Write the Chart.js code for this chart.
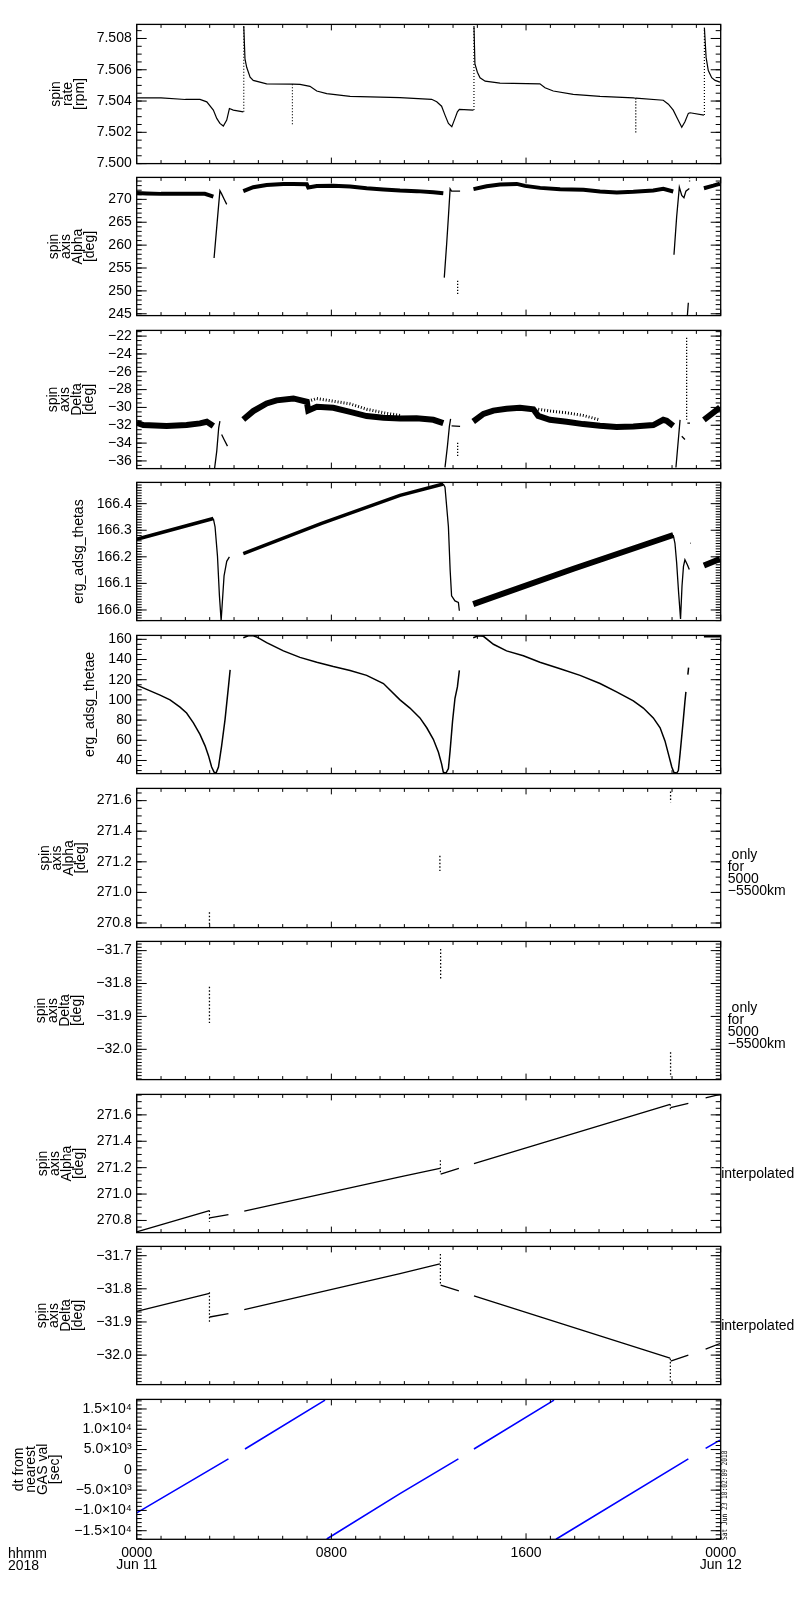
<!DOCTYPE html>
<html><head><meta charset="utf-8">
<script src="https://cdn.jsdelivr.net/npm/chart.js@4.4.1/dist/chart.umd.min.js"></script>
<style>
html,body{margin:0;padding:0;background:#fff;}
#wrap{position:relative;width:800px;height:1600px;overflow:hidden;background:#fff;}
#wrap canvas{position:absolute;left:0;}
</style></head><body><div id="wrap"></div>
<script>
// ================= DATA (time in hours from 0000 Jun 11) =================
// Panel 1: spin rate [rpm]
const rateT = [0,1,2,2.6,2.88,3.15,3.29,3.42,3.56,3.7,3.81,3.97,4.38,null,4.40,4.45,4.52,4.66,4.79,5.34,6.40,6.71,7.12,7.40,7.81,8.77,10.82,12.12,12.33,12.53,12.67,12.81,12.95,13.08,13.18,13.26,13.84,null,13.86,13.9,14.0,14.11,14.32,14.93,16.57,16.78,17.12,17.94,19.04,20.41,20.51,21.64,21.85,22.05,22.22,22.4,22.53,22.67,22.74,23.31,null,23.33,23.4,23.49,23.63,23.77,23.97];
const rateV = [7.5042,7.5042,7.5041,7.5041,7.50395,7.50342,7.50289,7.50257,7.5024,7.50278,7.50352,7.50342,7.50331,null,7.5088,7.50669,7.50616,7.50553,7.50532,7.5051,7.50508,7.50506,7.50494,7.50464,7.50447,7.5043,7.50422,7.50411,7.50395,7.50367,7.5031,7.50257,7.50236,7.50289,7.50331,7.50346,7.50342,null,7.5088,7.50637,7.50584,7.50549,7.50527,7.50515,7.5051,7.50485,7.50464,7.50443,7.5043,7.5042,7.50418,7.50405,7.5038,7.50342,7.50289,7.50232,7.50268,7.50321,7.50325,7.5031,null,7.50869,7.50679,7.50595,7.50549,7.50532,7.50521];
const rateSpikeT = [4.40,4.40,null,6.40,6.40,null,13.86,13.86,null,20.51,20.51,null,23.33,23.33];
const rateSpikeV = [7.50331,7.5088,null,7.50508,7.5025,null,7.50342,7.5088,null,7.50418,7.50188,null,7.5031,7.50869];

// Panel 2: spin axis Alpha [deg]
const alphaBandT = [0,0.4,1,2,2.8,3.0,3.15,null,4.38,4.79,5.34,6.03,6.44,6.99,7.05,7.40,8.08,8.77,9.45,10.14,10.82,11.51,12.19,12.6,null,13.84,14.38,14.93,15.62,15.96,16.58,17.4,18.36,19.04,19.73,20.41,21.23,21.64,22.05,null,23.31,23.7,23.97];
const alphaBandV = [271.4,271.3,271.2,271.2,271.22,270.86,270.6,null,271.8,272.66,273.16,273.38,273.38,273.3,272.6,272.9,272.95,272.8,272.44,272.16,271.94,271.8,271.58,271.36,null,272.23,272.87,273.23,273.38,272.95,272.51,272.23,272.08,271.72,271.51,271.65,271.94,272.3,271.72,null,272.44,273.0,273.45];
const alphaThinT = [3.18,3.29,3.36,3.42,3.49,3.59,3.70,null,3.80,3.83,null,12.64,12.74,12.81,12.88,12.94,13.29,null,22.08,22.19,22.30,22.40,22.49,22.57,22.71,null,22.63,22.67];
const alphaThinV = [257.2,264.0,268.3,271.9,271.2,270.1,268.9,null,271.6,271.6,null,252.9,260.4,266.2,272.3,271.8,271.8,null,257.9,266.2,272.66,270.86,270.36,271.8,272.4,null,244.6,247.4];
const alphaDotT = [13.19,13.19,null,22.72,22.72];
const alphaDotV = [252.2,249.3,null,274.8,273.7];

// Panel 3: spin axis Delta [deg]
const deltaBandT = [0,0.27,1.23,2.05,2.6,2.88,3.01,3.15,null,4.38,4.79,5.34,5.75,6.44,6.99,7.05,7.4,8.08,8.77,9.45,10.14,10.82,11.5,12.19,12.6,null,13.83,14.25,14.66,15.2,15.75,16.3,16.5,16.98,17.67,18.35,19.04,19.72,20.41,21.23,21.64,21.78,22.05,null,23.31,23.63,23.97];
const deltaBandV = [-31.72,-31.98,-32.09,-31.98,-31.79,-31.61,-31.83,-32.09,null,-31.35,-30.41,-29.55,-29.21,-28.99,-29.36,-30.34,-29.93,-30.04,-30.49,-30.97,-31.16,-31.23,-31.21,-31.39,-31.76,null,-31.58,-30.73,-30.36,-30.14,-30.03,-30.21,-30.95,-31.39,-31.61,-31.87,-32.06,-32.2,-32.13,-31.98,-31.39,-31.5,-32.06,null,-31.39,-30.73,-30.0];
const deltaScatterT = [7.05,7.4,8.08,8.77,9.45,10.14,10.82,null,16.5,16.98,17.67,18.35,19.04];
const deltaScatterV = [-29.3,-29.0,-29.3,-29.6,-30.2,-30.6,-30.9,null,-30.2,-30.4,-30.6,-30.9,-31.4];
const deltaThinT = [3.19,3.29,3.37,3.42,null,3.49,3.59,3.73,null,3.80,3.83,null,12.67,12.77,12.85,12.9,null,12.94,13.29,null,22.16,22.26,22.33,null,22.4,22.53,null,22.63,22.74];
const deltaThinV = [-37.07,-34.9,-32.28,-31.53,null,-33.03,-33.59,-34.34,null,-31.72,-31.72,null,-36.73,-34.34,-32.13,-31.28,null,-32.06,-32.13,null,-36.73,-33.6,-31.39,null,-33.24,-33.6,null,-31.76,-31.76];
const deltaDotT = [13.19,13.19,null,22.6,22.6];
const deltaDotV = [-33.97,-35.62,null,-22.19,-31.39];

// Panel 4: erg_adsg_thetas
const thetasBandAT = [0,3.15,null,4.38,7.6,10.82,12.6];
const thetasBandAV = [166.266,166.344,null,166.212,166.326,166.431,166.474];
const thetasBandBT = [13.83,17.95,22.05,null,23.31,23.97];
const thetasBandBV = [166.022,166.155,166.282,null,166.167,166.192];
const thetasThinT = [3.15,3.22,3.32,3.40,3.47,3.51,3.59,3.70,3.81,null,3.80,3.82,null,12.6,12.67,12.81,12.88,12.94,13.08,13.22,13.26,null,22.05,22.12,22.19,22.27,22.35,22.41,22.47,22.53,22.63,22.71,null,22.76,22.78];
const thetasThinV = [166.344,166.313,166.202,166.053,165.96,166.016,166.128,166.183,166.2,null,166.258,166.258,null,166.474,166.462,166.313,166.152,166.053,166.034,166.028,165.997,null,166.282,166.251,166.177,166.066,165.966,166.09,166.164,166.189,166.17,166.152,null,166.251,166.251];

// Panel 5: erg_adsg_thetae
const thetaeT = [0,0.41,0.96,1.37,1.78,2.05,2.33,2.6,2.81,2.95,3.08,3.18,3.26,3.36,3.49,3.63,3.77,3.84,null,4.38,4.59,4.79,4.93,5.34,6.03,6.71,7.4,8.08,8.77,9.45,10.14,10.82,11.23,11.64,11.92,12.19,12.4,12.53,12.6,12.71,12.81,12.88,12.98,13.08,13.18,13.26,null,13.83,14.04,14.25,14.66,15.2,15.89,16.57,17.4,18.22,19.04,19.72,20.41,20.82,21.23,21.51,21.71,21.85,21.99,22.08,22.19,22.26,22.33,22.47,22.53,22.57,null,22.65,22.68,null,23.31,23.97];
const thetaeV = [114.6,110.4,104.8,100.0,92.9,87.0,77.3,65.9,54.5,44.8,33.5,28.5,27.5,33.5,54.5,80.5,112.9,129.8,null,161.6,163.5,163.5,162.4,156.7,148.6,142.1,137.3,133.0,129.2,124.3,116.2,100.0,91.9,82.2,72.4,61.0,48.1,36.7,28.5,27.5,32,49.7,78.9,101.6,112.9,129.2,null,161.6,163.5,163.0,155.1,148.6,143.7,137.3,130.8,124.3,116.2,108.0,99.0,91.9,82.2,72.4,59.4,46.5,33.5,28,27.5,30,46.5,82.2,98.3,108.0,null,125,132,null,162.5,162.5];

// Panel 6: spin axis Alpha, only for 5000-5500km
const alphaOnlyT = [2.99,2.99,null,12.46,12.46,null,21.94,21.94];
const alphaOnlyV = [270.87,270.79,null,271.24,271.14,null,271.66,271.59];

// Panel 7: spin axis Delta, only for 5000-5500km
const deltaOnlyT = [2.99,2.99,null,12.49,12.49,null,21.94,21.94];
const deltaOnlyV = [-31.81,-31.92,null,-31.695,-31.79,null,-32.009,-32.084];

// Panel 8: spin axis Alpha, interpolated
const alphaIntT = [0,2.99,null,3.0,3.77,null,4.42,10.82,12.46,null,12.49,13.24,null,13.86,21.92,null,21.94,22.67,null,23.38,23.97];
const alphaIntV = [270.713,270.875,null,270.82,270.845,null,270.870,271.131,271.194,null,271.151,271.194,null,271.231,271.68,null,271.655,271.687,null,271.729,271.755];
const alphaJumpT = [2.99,2.99,null,12.48,12.48,null,21.93,21.93];
const alphaJumpV = [270.875,270.79,null,271.256,271.15,null,271.68,271.63];

// Panel 9: spin axis Delta, interpolated
const deltaIntT = [0,2.99,null,3.0,3.77,null,4.42,10.82,12.46,null,12.49,13.24,null,13.86,21.92,null,21.94,22.67,null,23.38,23.97];
const deltaIntV = [-31.868,-31.814,null,-31.885,-31.875,null,-31.863,-31.754,-31.725,null,-31.789,-31.806,null,-31.821,-32.009,null,-32.018,-32.0,null,-31.982,-31.965];
const deltaJumpT = [2.99,2.99,null,12.48,12.48,null,21.93,21.93];
const deltaJumpV = [-31.81,-31.90,null,-31.695,-31.789,null,-32.01,-32.08];

// Panel 10: dt from nearest GAS val [sec]
const dtT = [0,3.77,null,4.45,7.74,null,7.81,10.82,13.22,null,13.86,17.15,null,17.23,22.67,null,23.38,23.97];
const dtV = [-10600,2690,null,5130,17190,null,-17040,-5870,2690,null,5130,17190,null,-17100,2690,null,5280,7330];

// Axis ranges / tick steps
const yMins   = [7.500, 244.6, -36.86, 165.96, 27.0, 270.77, -32.092, 270.708, -32.089, -17115];
const yMaxs   = [7.5089, 274.8, -21.36, 166.48, 163.9, 271.68, -31.672, 271.755, -31.672, 17360];
const yMajor  = [0.002, 5, 2, 0.1, 20, 0.2, 0.1, 0.2, 0.1, 5000];
const yMinor  = [0.0005, 1, 0.5, 0.01, 5, 0.05, 0.01, 0.05, 0.01, 1000];
const xMajorHours = [0, 8, 16, 24];
const yTitles = [
  ['spin','rate','[rpm]'],
  ['spin','axis','Alpha','[deg]'],
  ['spin','axis','Delta','[deg]'],
  'erg_adsg_thetas',
  'erg_adsg_thetae',
  ['spin','axis','Alpha','[deg]'],
  ['spin','axis','Delta','[deg]'],
  ['spin','axis','Alpha','[deg]'],
  ['spin','axis','Delta','[deg]'],
  ['dt from','nearest','GAS val','[sec]']
];
const xTickLabels = [['0000','Jun 11'],'0800','1600',['0000','Jun 12']];
const onlyNote = [' only','for','5000','\u22125500km'];
const interpNote = 'interpolated';
const timeStamp = 'Sat Jun 23 10:02:09 2018';

// ================= LAYOUT / STYLE =================
const FONT = '"Liberation Sans", Arial, sans-serif';
const PLOT_L = 136.7, PLOT_R = 720.7;
const panelTops    = [23.3, 176.7, 329.3, 481.7, 634.3, 787.7, 940.7, 1093.3, 1245.7, 1398.3];
const panelBottoms = [164.3, 316.7, 469.3, 621.7, 775, 928.3, 1081, 1233.3, 1386, 1539.3];
const titlePad = [50, 48, 47, 73, 84, 39, 35, 37, 36, 13];
const minus = s => s.replace('-', '\u2212');
const sup = {'0':'\u2070','1':'\u00b9','2':'\u00b2','3':'\u00b3','4':'\u2074','5':'\u2075'};
const fmts = [
  v => v.toFixed(3),
  v => v.toFixed(0),
  v => minus(v.toFixed(0)),
  v => v.toFixed(1),
  v => v.toFixed(0),
  v => v.toFixed(1),
  v => minus(v.toFixed(1)),
  v => v.toFixed(1),
  v => minus(v.toFixed(1)),
  v => { if (Math.abs(v) < 1e-6) return '0'; const e = Math.floor(Math.log10(Math.abs(v)) + 1e-9); const m = v / Math.pow(10, e); return minus(m.toFixed(1)) + '\u00d710' + String(e).split('').map(c => sup[c]).join(''); }
];
const K = '#000';
const DOT = [1.2, 1.8];
const panelSets = [
  [{T:rateT, V:rateV, w:1.2}, {T:rateSpikeT, V:rateSpikeV, w:1.2, dash:DOT}],
  [{T:alphaBandT, V:alphaBandV, w:4}, {T:alphaThinT, V:alphaThinV, w:1.3}, {T:alphaDotT, V:alphaDotV, w:1.3, dash:DOT}],
  [{T:deltaScatterT, V:deltaScatterV, w:3, dash:[1,2]}, {T:deltaBandT, V:deltaBandV, w:6}, {T:deltaThinT, V:deltaThinV, w:1.3}, {T:deltaDotT, V:deltaDotV, w:1.3, dash:DOT}],
  [{T:thetasBandAT, V:thetasBandAV, w:3.5}, {T:thetasBandBT, V:thetasBandBV, w:6}, {T:thetasThinT, V:thetasThinV, w:1.3}],
  [{T:thetaeT, V:thetaeV, w:1.5}],
  [{T:alphaOnlyT, V:alphaOnlyV, w:1.3, dash:[1.5,2]}],
  [{T:deltaOnlyT, V:deltaOnlyV, w:1.3, dash:[1.5,2]}],
  [{T:alphaIntT, V:alphaIntV, w:1.3}, {T:alphaJumpT, V:alphaJumpV, w:1.2, dash:[1.5,2]}],
  [{T:deltaIntT, V:deltaIntV, w:1.3}, {T:deltaJumpT, V:deltaJumpV, w:1.2, dash:[1.5,2]}],
  [{T:dtT, V:dtV, w:1.6, c:'#0000ff'}]
];
const noteTexts = (lines) => lines.map((t, k) => ({t, x: PLOT_R + 7, dy: 70.8 + k * 11.8}));
const panelTexts = [
  [], [], [], [], [],
  noteTexts(onlyNote),
  noteTexts(onlyNote),
  [{t: interpNote, x: PLOT_R + 0.5, dy: 84}],
  [{t: interpNote, x: PLOT_R + 0.5, dy: 84}],
  [{t:'hhmm', x:8, dy:155, base:'middle'}, {t:'2018', x:8, dy:167, base:'middle'},
   {t: timeStamp, x: 725.3, dy: 140.5, base:'middle', rot: -Math.PI/2, sy: 1.25, font: '6.2px "DejaVu Sans Mono", monospace'}]
];

// ================= PLUGIN: IDL-style box, inward ticks, annotations =================
const idlPlugin = {
  id: 'idl',
  afterDatasetsDraw(chart, args, opts) {
    const {ctx, chartArea: a, scales: {x, y}} = chart;
    ctx.save();
    ctx.strokeStyle = K; ctx.lineWidth = 1;
    ctx.beginPath();
    const m = opts.minor;
    const k0 = Math.ceil(y.min / m - 1e-6), k1 = Math.floor(y.max / m + 1e-6);
    for (let k = k0; k <= k1; k++) {
      const py = y.getPixelForValue(k * m);
      ctx.moveTo(a.left, py); ctx.lineTo(a.left + 5, py);
      ctx.moveTo(a.right, py); ctx.lineTo(a.right - 5, py);
    }
    y.ticks.forEach(t => {
      const py = y.getPixelForValue(t.value);
      ctx.moveTo(a.left, py); ctx.lineTo(a.left + 10, py);
      ctx.moveTo(a.right, py); ctx.lineTo(a.right - 10, py);
    });
    for (let h = 0; h <= 24; h++) {
      const px = x.getPixelForValue(h);
      const L = (h % 8 === 0) ? 6 : 3.5;
      ctx.moveTo(px, a.top); ctx.lineTo(px, a.top + L);
      ctx.moveTo(px, a.bottom); ctx.lineTo(px, a.bottom - L);
    }
    ctx.stroke();
    ctx.lineWidth = 1.3;
    ctx.strokeRect(a.left, a.top, a.right - a.left, a.bottom - a.top);
    (opts.texts || []).forEach(tx => {
      ctx.save();
      ctx.fillStyle = K;
      ctx.font = tx.font || ('14px ' + FONT);
      ctx.textAlign = tx.align || 'left';
      ctx.textBaseline = tx.base || 'alphabetic';
      const px = tx.x, py = a.top + tx.dy;
      if (tx.rot) { ctx.translate(px, py); ctx.rotate(tx.rot); if (tx.sy) ctx.scale(1, tx.sy); ctx.fillText(tx.t, 0, 0); }
      else ctx.fillText(tx.t, px, py);
      ctx.restore();
    });
    ctx.restore();
  }
};

// ================= BUILD CHARTS =================
const wrap = document.getElementById('wrap');
const PAD = 12, XH = 50;
const pts = (T, V) => T.map((t, i) => ({x: t, y: V[i]}));
const majorTicks = (lo, hi, step) => {
  const out = [];
  for (let k = Math.ceil(lo / step - 1e-6); k * step <= hi + step * 1e-6; k++) out.push({value: k * step});
  return out;
};

panelSets.forEach((sets, i) => {
  const top = panelTops[i], bot = panelBottoms[i];
  const isLast = i === panelSets.length - 1;
  const cTop = Math.floor(top) - PAD;
  const padTop = top - cTop;
  const cH = Math.ceil(bot - cTop + (isLast ? XH : PAD));
  const padBottom = cH - (bot - cTop) - (isLast ? XH : 0);
  const canvas = document.createElement('canvas');
  canvas.width = 800; canvas.height = cH;
  canvas.style.top = cTop + 'px';
  canvas.style.width = '800px'; canvas.style.height = cH + 'px';
  wrap.appendChild(canvas);

  new Chart(canvas, {
    type: 'line',
    data: {
      datasets: sets.map(s => ({
        data: pts(s.T, s.V),
        borderColor: s.c || K,
        borderWidth: s.w,
        borderDash: s.dash || [],
        pointRadius: 0, pointHoverRadius: 0,
        fill: false, tension: 0, spanGaps: false
      }))
    },
    options: {
      responsive: false, animation: false, events: [],
      layout: {padding: {left: 0, right: 800 - PLOT_R, top: padTop, bottom: padBottom}},
      plugins: {legend: {display: false}, tooltip: {enabled: false},
                idl: {minor: yMinor[i], texts: panelTexts[i]}},
      scales: {
        x: {
          type: 'linear', min: 0, max: 24, display: isLast, position: 'bottom',
          afterFit: s => { s.height = isLast ? XH : 0; },
          afterBuildTicks: s => { s.ticks = xMajorHours.map(v => ({value: v})); },
          grid: {display: false, drawTicks: false}, border: {display: false},
          ticks: {autoSkip: false, maxRotation: 0, minRotation: 0,
                  padding: 8, color: K, font: {family: FONT, size: 14, lineHeight: '12px'},
                  callback: (v, idx) => xTickLabels[idx]}
        },
        y: {
          type: 'linear', min: yMins[i], max: yMaxs[i], position: 'left',
          afterFit: s => { s.width = PLOT_L; },
          afterBuildTicks: s => { s.ticks = majorTicks(yMins[i], yMaxs[i], yMajor[i]); },
          grid: {display: false, drawTicks: false}, border: {display: false},
          ticks: {autoSkip: false, padding: 5,
                  color: K, font: {family: FONT, size: 14}, callback: v => fmts[i](v)},
          title: {display: true, text: yTitles[i], color: K,
                  font: {family: FONT, size: 14, lineHeight: '12px'},
                  padding: {top: titlePad[i], bottom: 0}}
        }
      }
    },
    plugins: [idlPlugin]
  });
});
</script>
</body></html>
